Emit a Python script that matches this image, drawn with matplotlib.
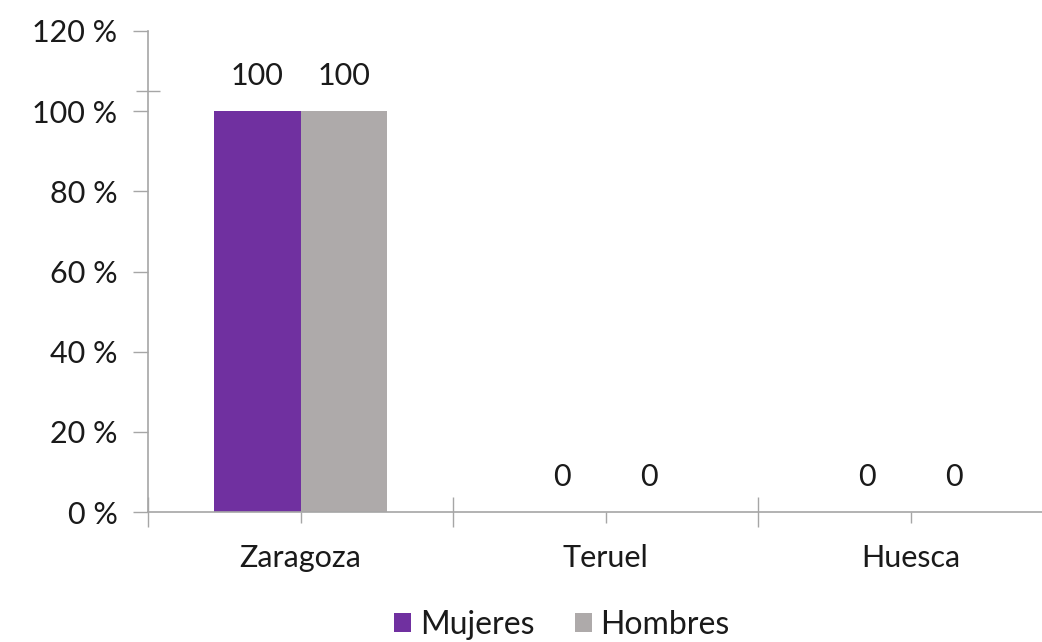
import matplotlib.pyplot as plt
from matplotlib.ticker import FixedLocator, FuncFormatter

plt.rcParams['font.family'] = ['Lato', 'DejaVu Sans']

provincias = ['Zaragoza', 'Teruel', 'Huesca']
mujeres = [100, 0, 0]
hombres = [100, 0, 0]
y_ticks = [0, 20, 40, 60, 80, 100, 120]

col_m = '#7030A0'
col_h = '#AEAAAA'
col_ax = '#A6A6A6'
col_txt = '#1A1A1A'

fig = plt.figure(figsize=(10.42, 6.42), dpi=100)
ax = fig.add_axes([148 / 1042, 130 / 642, 915 / 1042, 481 / 642])

w = 0.285
x = list(range(len(provincias)))
bm = ax.bar([i - w / 2 for i in x], mujeres, w, color=col_m, label='Mujeres')
bh = ax.bar([i + w / 2 for i in x], hombres, w, color=col_h, label='Hombres')

for bars, vals in ((bm, mujeres), (bh, hombres)):
    for b, v in zip(bars, vals):
        ax.annotate(str(v), (b.get_x() + b.get_width() / 2, v), xytext=(0, 25),
                    textcoords='offset points', ha='center', va='center',
                    fontsize=22, color=col_txt)

ax.set_xlim(-0.5, 2.5)
ax.set_ylim(0, 120)

# category boundaries as major ticks, names on minor ticks at centres
ax.xaxis.set_major_locator(FixedLocator([-0.5, 0.5, 1.5, 2.5]))
ax.xaxis.set_major_formatter(FuncFormatter(lambda v, p: ''))
ax.xaxis.set_minor_locator(FixedLocator(x))
ax.set_xticklabels(provincias, minor=True)
ax.tick_params(axis='x', which='major', direction='inout', length=22, width=1, color=col_ax)
ax.tick_params(axis='x', which='minor', direction='out', length=8, width=1, color=col_ax,
               labelsize=22, labelcolor=col_txt, pad=15)

ax.set_yticks(y_ticks)
ax.set_yticklabels([f'{t} %' for t in y_ticks])
ax.yaxis.set_minor_locator(FixedLocator([105]))
ax.tick_params(axis='y', which='major', direction='out', length=11, width=1, color=col_ax,
               labelsize=22, labelcolor=col_txt, pad=11)
ax.tick_params(axis='y', which='minor', direction='inout', length=17, width=1, color=col_ax)

for s in ('top', 'right'):
    ax.spines[s].set_visible(False)
for s in ('left', 'bottom'):
    ax.spines[s].set_color(col_ax)
    ax.spines[s].set_linewidth(1.2)

fig.legend(handles=[bm, bh], loc='center', bbox_to_anchor=(562 / 1042, 1 - 625 / 642),
           ncol=2, frameon=False, fontsize=23, handlelength=0.53, handleheight=0.53,
           handletextpad=0.28, columnspacing=1.25, borderpad=0, labelcolor=col_txt)

fig.savefig('out.png', dpi=100)
